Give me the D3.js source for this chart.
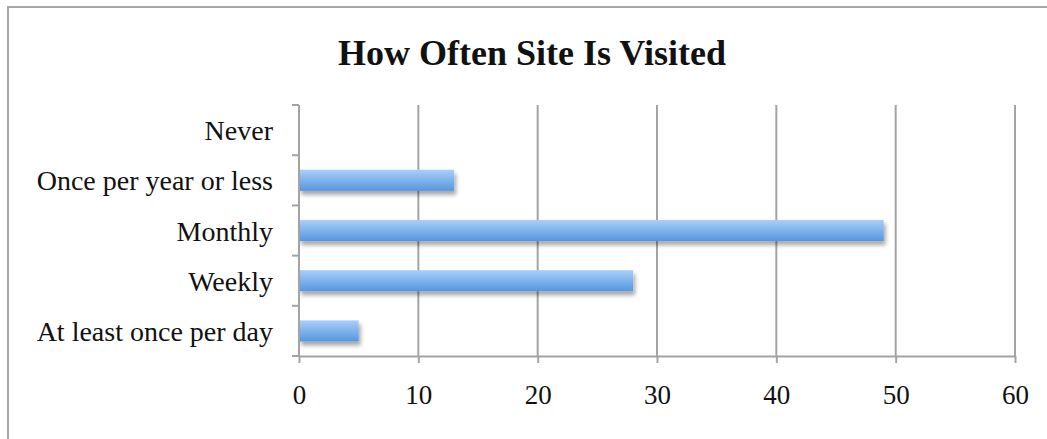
<!DOCTYPE html>
<html>
<head>
<meta charset="utf-8">
<script src="https://cdn.jsdelivr.net/npm/d3@7"></script>
<style>
  html, body { margin: 0; padding: 0; background: #fff; }
  svg { display: block; }
</style>
</head>
<body>
<svg id="chart" width="1047" height="439"></svg>
<script>
// Survey answers, listed top to bottom as shown on the axis
const categories = ["Never", "Once per year or less", "Monthly", "Weekly", "At least once per day"];
const counts = [0, 13, 49, 28, 5];
const xTicks = [0, 10, 20, 30, 40, 50, 60];
const title = "How Often Site Is Visited";

const svg = d3.select("#chart");
const W = 1047, H = 439;
const plot = { left: 299, right: 1015, top: 105, bottom: 356 };
const gridColor = "#a3a3a3";
const serif = "'Liberation Serif', 'Times New Roman', serif";

// Outer frame (top and left edges inside the window)
svg.append("path")
  .attr("d", `M8,${H + 2} L8,7 L${W + 2},7`)
  .attr("fill", "none")
  .attr("stroke", "#a6a6a6")
  .attr("stroke-width", 2);

// Title
svg.append("text")
  .attr("x", 532)
  .attr("y", 65)
  .attr("text-anchor", "middle")
  .attr("font-family", serif)
  .attr("font-weight", "bold")
  .attr("font-size", 36)
  .attr("fill", "#111")
  .text(title);

const x = d3.scaleLinear().domain([0, 60]).range([plot.left, plot.right]);
const y = d3.scaleBand().domain(categories).range([plot.top, plot.bottom]).paddingInner(0.58).paddingOuter(0.29);
const yEdges = d3.scaleLinear().domain([0, categories.length]).range([plot.top, plot.bottom]);

// Gradient and shadow for the bars
const defs = svg.append("defs");
const grad = defs.append("linearGradient")
  .attr("id", "barFill").attr("x1", 0).attr("y1", 0).attr("x2", 0).attr("y2", 1);
grad.append("stop").attr("offset", "0%").attr("stop-color", "#a9cff9");
grad.append("stop").attr("offset", "100%").attr("stop-color", "#5596df");

const shadow = defs.append("filter")
  .attr("id", "barShadow").attr("x", "-10%").attr("y", "-50%").attr("width", "130%").attr("height", "250%");
shadow.append("feGaussianBlur").attr("in", "SourceAlpha").attr("stdDeviation", 2.2).attr("result", "blur");
shadow.append("feOffset").attr("in", "blur").attr("dx", 2).attr("dy", 4).attr("result", "off");
shadow.append("feComponentTransfer").attr("in", "off").attr("result", "soft")
  .append("feFuncA").attr("type", "linear").attr("slope", 0.35);
const merge = shadow.append("feMerge");
merge.append("feMergeNode").attr("in", "soft");
merge.append("feMergeNode").attr("in", "SourceGraphic");

// Vertical gridlines
svg.append("g")
  .selectAll("line")
  .data(xTicks.filter(d => d > 0))
  .join("line")
  .attr("x1", d => x(d)).attr("x2", d => x(d))
  .attr("y1", plot.top).attr("y2", plot.bottom)
  .attr("stroke", gridColor).attr("stroke-width", 2);

// Bars
svg.append("g")
  .selectAll("rect")
  .data(categories.map((c, i) => ({ c, v: counts[i] })).filter(d => d.v > 0))
  .join("rect")
  .attr("x", x(0))
  .attr("y", d => y(d.c))
  .attr("width", d => x(d.v) - x(0))
  .attr("height", y.bandwidth())
  .attr("fill", "url(#barFill)")
  .attr("filter", "url(#barShadow)");

// X axis
const xAxis = svg.append("g")
  .attr("transform", `translate(0,${plot.bottom})`)
  .call(d3.axisBottom(x).tickValues(xTicks).tickSize(7).tickPadding(22).tickSizeOuter(0));
xAxis.select(".domain").attr("stroke", gridColor).attr("stroke-width", 2);
xAxis.selectAll(".tick line").attr("stroke", gridColor).attr("stroke-width", 2);
xAxis.selectAll(".tick text")
  .attr("font-family", serif).attr("font-size", 27).attr("fill", "#111");

// Y axis: tick marks sit at band edges, labels at band centres
const yAxis = svg.append("g").attr("transform", `translate(${plot.left},0)`);
yAxis.append("line")
  .attr("x1", 0).attr("x2", 0).attr("y1", plot.top).attr("y2", plot.bottom)
  .attr("stroke", gridColor).attr("stroke-width", 2);
yAxis.selectAll("line.edge")
  .data(d3.range(categories.length + 1))
  .join("line").attr("class", "edge")
  .attr("x1", -7).attr("x2", 0)
  .attr("y1", d => yEdges(d)).attr("y2", d => yEdges(d))
  .attr("stroke", gridColor).attr("stroke-width", 2);
yAxis.selectAll("text")
  .data(categories)
  .join("text")
  .attr("x", -26)
  .attr("y", d => y(d) + y.bandwidth() / 2)
  .attr("dy", "0.36em")
  .attr("text-anchor", "end")
  .attr("font-family", serif)
  .attr("font-size", 28)
  .attr("fill", "#111")
  .text(d => d);
</script>
</body>
</html>
